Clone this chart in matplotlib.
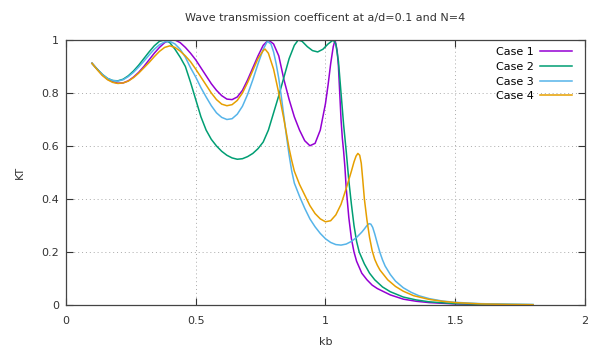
#!/usr/bin/env python3
"""
Wave transmission coefficient KT vs kb for four cases (a/d=0.1, N=4).
"""

import matplotlib
matplotlib.use("Agg")
import matplotlib.pyplot as plt

# --- Data
kb_1 = [0.10, 0.12, 0.14, 0.16, 0.18, 0.20, 0.22, 0.24, 0.26, 0.28, 0.30, 0.32, 0.34, 0.36,
        0.38, 0.40, 0.42, 0.44, 0.46, 0.48, 0.50, 0.52, 0.54, 0.56, 0.58, 0.60, 0.62, 0.64,
        0.66, 0.68, 0.70, 0.72, 0.74, 0.76, 0.78, 0.80, 0.82, 0.84, 0.86, 0.88, 0.90, 0.92,
        0.94, 0.96, 0.98, 1.00, 1.01, 1.02, 1.03, 1.037, 1.045, 1.05, 1.055, 1.06, 1.065,
        1.07, 1.075, 1.08, 1.09, 1.10, 1.11, 1.12, 1.14, 1.16, 1.18, 1.20, 1.25, 1.30, 1.35,
        1.40, 1.50, 1.60, 1.70, 1.80]
kt_1 = [0.912, 0.890, 0.868, 0.852, 0.842, 0.837, 0.838, 0.846, 0.860, 0.878, 0.900, 0.925,
        0.950, 0.972, 0.990, 0.999, 1.000, 0.990, 0.972, 0.950, 0.925, 0.895, 0.865, 0.835,
        0.810, 0.790, 0.777, 0.775, 0.785, 0.810, 0.850, 0.895, 0.940, 0.980, 1.000, 0.985,
        0.940, 0.850, 0.775, 0.710, 0.660, 0.620, 0.601, 0.610, 0.660, 0.760, 0.830, 0.910,
        0.975, 1.000, 0.960, 0.900, 0.800, 0.700, 0.630, 0.580, 0.520, 0.440, 0.330, 0.250,
        0.200, 0.165, 0.120, 0.095, 0.075, 0.062, 0.038, 0.022, 0.014, 0.009, 0.004, 0.002,
        0.001, 0.000]

kb_2 = [0.10, 0.12, 0.14, 0.16, 0.18, 0.20, 0.22, 0.24, 0.26, 0.28, 0.30, 0.32, 0.34, 0.36,
        0.38, 0.40, 0.42, 0.44, 0.46, 0.48, 0.50, 0.52, 0.54, 0.56, 0.58, 0.60, 0.62, 0.64,
        0.66, 0.68, 0.70, 0.72, 0.74, 0.76, 0.78, 0.80, 0.82, 0.84, 0.86, 0.88, 0.895, 0.91,
        0.93, 0.95, 0.97, 0.99, 1.01, 1.03, 1.04, 1.05, 1.06, 1.07, 1.08, 1.09, 1.10, 1.11,
        1.12, 1.13, 1.15, 1.17, 1.19, 1.22, 1.25, 1.30, 1.35, 1.40, 1.50, 1.60, 1.70, 1.80]
kt_2 = [0.912, 0.890, 0.870, 0.855, 0.847, 0.846, 0.852, 0.865, 0.883, 0.905, 0.930, 0.955,
        0.978, 0.995, 1.000, 0.990, 0.965, 0.935, 0.900, 0.840, 0.775, 0.710, 0.660, 0.625,
        0.600, 0.580, 0.565, 0.555, 0.550, 0.552, 0.560, 0.572, 0.590, 0.615, 0.660, 0.725,
        0.790, 0.860, 0.930, 0.980, 1.000, 0.995, 0.975, 0.960, 0.955, 0.965, 0.985, 1.000,
        0.985, 0.920, 0.800, 0.680, 0.580, 0.470, 0.380, 0.300, 0.240, 0.200, 0.155, 0.120,
        0.095, 0.068, 0.050, 0.030, 0.019, 0.012, 0.005, 0.003, 0.002, 0.001]

kb_3 = [0.10, 0.12, 0.14, 0.16, 0.18, 0.20, 0.22, 0.24, 0.26, 0.28, 0.30, 0.32, 0.34, 0.36,
        0.38, 0.40, 0.42, 0.44, 0.46, 0.48, 0.50, 0.52, 0.54, 0.56, 0.58, 0.60, 0.62, 0.64,
        0.66, 0.68, 0.70, 0.72, 0.74, 0.76, 0.776, 0.79, 0.80, 0.81, 0.82, 0.83, 0.84, 0.85,
        0.86, 0.87, 0.88, 0.90, 0.92, 0.94, 0.96, 0.98, 1.00, 1.02, 1.04, 1.06, 1.08, 1.10,
        1.12, 1.14, 1.15, 1.16, 1.168, 1.175, 1.182, 1.19, 1.20, 1.21, 1.22, 1.23, 1.25, 1.27,
        1.30, 1.33, 1.36, 1.40, 1.45, 1.50, 1.60, 1.70, 1.80]
kt_3 = [0.912, 0.890, 0.870, 0.855, 0.847, 0.845, 0.850, 0.862, 0.878, 0.898, 0.920, 0.943,
        0.965, 0.982, 0.993, 0.995, 0.985, 0.965, 0.935, 0.895, 0.860, 0.820, 0.785, 0.752,
        0.725, 0.708, 0.700, 0.703, 0.720, 0.750, 0.795, 0.850, 0.910, 0.965, 0.995, 0.985,
        0.955, 0.910, 0.855, 0.785, 0.710, 0.635, 0.565, 0.505, 0.460, 0.410, 0.365, 0.325,
        0.295, 0.270, 0.250, 0.236, 0.228, 0.226, 0.230, 0.240, 0.255, 0.275, 0.287, 0.300,
        0.307, 0.305, 0.293, 0.268, 0.232, 0.198, 0.170, 0.147, 0.115, 0.090, 0.065, 0.048,
        0.035, 0.024, 0.015, 0.010, 0.005, 0.003, 0.002]

kb_4 = [0.10, 0.12, 0.14, 0.16, 0.18, 0.20, 0.22, 0.24, 0.26, 0.28, 0.30, 0.32, 0.34, 0.36,
        0.38, 0.40, 0.42, 0.44, 0.46, 0.48, 0.50, 0.52, 0.54, 0.56, 0.58, 0.60, 0.62, 0.64,
        0.66, 0.68, 0.70, 0.72, 0.74, 0.76, 0.767, 0.78, 0.80, 0.82, 0.84, 0.85, 0.86, 0.87,
        0.88, 0.90, 0.92, 0.94, 0.96, 0.98, 1.00, 1.02, 1.04, 1.06, 1.08, 1.10, 1.11, 1.118,
        1.125, 1.132, 1.138, 1.144, 1.15, 1.16, 1.17, 1.18, 1.19, 1.20, 1.21, 1.24, 1.27, 1.30,
        1.34, 1.40, 1.45, 1.50, 1.60, 1.70, 1.80]
kt_4 = [0.912, 0.888, 0.866, 0.850, 0.840, 0.836, 0.838, 0.845, 0.858, 0.875, 0.895, 0.915,
        0.937, 0.957, 0.972, 0.978, 0.972, 0.958, 0.940, 0.918, 0.890, 0.860, 0.830, 0.800,
        0.775, 0.758, 0.752, 0.756, 0.772, 0.800, 0.840, 0.885, 0.930, 0.960, 0.966, 0.950,
        0.890, 0.800, 0.700, 0.645, 0.590, 0.545, 0.505, 0.455, 0.415, 0.375, 0.345, 0.325,
        0.314, 0.318, 0.340, 0.380, 0.440, 0.505, 0.540, 0.562, 0.572, 0.565, 0.535, 0.470,
        0.400, 0.320, 0.255, 0.205, 0.172, 0.150, 0.132, 0.095, 0.070, 0.052, 0.035, 0.021,
        0.014, 0.009, 0.004, 0.002, 0.001]

labels = ["Case 1", "Case 2", "Case 3", "Case 4"]
colors = ["#9400d3", "#009e73", "#56b4e9", "#e69f00"]

x_ticks = [0, 0.5, 1, 1.5, 2]
x_tick_labels = ["0", "0.5", "1", "1.5", "2"]
y_ticks = [0, 0.2, 0.4, 0.6, 0.8, 1]
y_tick_labels = ["0", "0.2", "0.4", "0.6", "0.8", "1"]

# --- Plot
plt.rcParams["font.family"] = ["DejaVu Sans"]
fig = plt.figure(figsize=(5.95, 3.5), dpi=100)
ax = fig.add_axes([0.111, 0.1286, 0.872, 0.7571])

series = [(kb_1, kt_1), (kb_2, kt_2), (kb_3, kt_3), (kb_4, kt_4)]
for (x, y), lab, col in zip(series, labels, colors):
    ax.plot(x, y, color=col, lw=1.1, label=lab)

ax.set_xlim(0, 2)
ax.set_ylim(0, 1)
ax.set_xticks(x_ticks)
ax.set_xticklabels(x_tick_labels)
ax.set_yticks(y_ticks)
ax.set_yticklabels(y_tick_labels)
ax.tick_params(direction="in", length=5, width=0.8, top=True, right=True,
               labelsize=8, colors="#333333", pad=8)
ax.tick_params(axis="y", pad=5)
for s in ax.spines.values():
    s.set_color("#444444")
    s.set_linewidth(0.9)

ax.grid(True, color="#aaaaaa", linestyle=(0, (1, 3)), linewidth=0.7)
ax.set_axisbelow(True)

ax.set_title("Wave transmission coefficent at a/d=0.1 and N=4", fontsize=8,
             color="#333333", pad=14)
ax.set_xlabel("kb", fontsize=8, color="#333333", labelpad=8)
ax.set_ylabel("KT", fontsize=8, color="#333333", labelpad=12)

ax.legend(loc="upper right", frameon=False, markerfirst=False, fontsize=8,
          handlelength=2.9, handletextpad=0.6, labelspacing=0.42,
          borderaxespad=0.5, bbox_to_anchor=(0.995, 1.01))

fig.savefig("out.png", dpi=100)
